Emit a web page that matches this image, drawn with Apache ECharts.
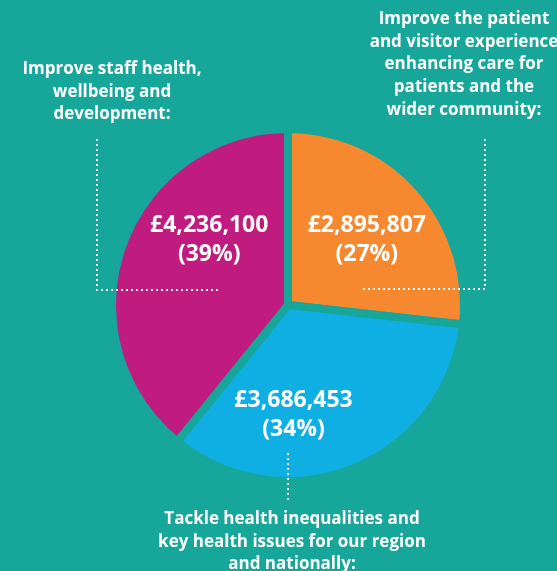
<!DOCTYPE html>
<html>
<head>
<meta charset="utf-8">
<script src="https://cdn.jsdelivr.net/npm/echarts@6/dist/echarts.min.js"></script>
<style>
  html, body { margin: 0; padding: 0; background: #16a79a; }
  #chart { width: 557px; height: 571px; }
</style>
</head>
<body>
<div id="chart"></div>
<script>
// 数据
const categories = [
  'Improve the patient\nand visitor experience\nenhancing care for\npatients and the\nwider community:',
  'Tackle health inequalities and\nkey health issues for our region\nand nationally:',
  'Improve staff health,\nwellbeing and\ndevelopment:'
]
const amounts = [2895807, 3686453, 4236100]
const colors = ['#f6892f', '#10afe3', '#c01c80']

const bg = '#16a79a'
const font = '"Open Sans", "DejaVu Sans", sans-serif'

// nudge the inside labels to where the reference puts them
const labelNudge = [[11, -4], [-29, 26], [7, -35]]

const chart = echarts.init(document.getElementById('chart'))

const textStyle = { fill: '#fff', font: 'bold 17px ' + font, textAlign: 'center', textVerticalAlign: 'top', lineHeight: 22.6 }
const dotted = { stroke: '#fff', lineWidth: 2, lineDash: [2, 3], fill: null }

const option = {
  backgroundColor: bg,
  animation: false,
  series: [
    {
      type: 'pie',
      center: [288, 305],
      radius: [0, 176],
      startAngle: 90,
      clockwise: true,
      silent: true,
      itemStyle: {
        borderColor: bg,
        borderWidth: 8
      },
      label: {
        show: true,
        position: 'inside',
        color: '#fff',
        fontFamily: font,
        fontWeight: 'bold',
        fontSize: 23,
        lineHeight: 29,
        align: 'center',
        formatter: (p) => '£' + p.value.toLocaleString('en-GB') + '\n(' + Math.round(p.percent) + '%)'
      },
      labelLine: { show: false },
      data: amounts.map((v, i) => ({
        value: v,
        name: categories[i],
        itemStyle: { color: colors[i] },
        label: { offset: labelNudge[i] }
      }))
    }
  ],
  graphic: [
    // 类别说明文字
    { type: 'text', x: 464, y: 8, z: 100, style: Object.assign({ text: categories[0] }, textStyle) },
    { type: 'text', x: 292, y: 508, z: 100, style: Object.assign({ text: categories[1] }, textStyle) },
    { type: 'text', x: 112, y: 58, z: 100, style: Object.assign({ text: categories[2] }, textStyle) },
    // 虚线引导线
    { type: 'polyline', z: 100, shape: { points: [[485, 139], [485, 289], [363, 289]] }, style: dotted },
    { type: 'polyline', z: 100, shape: { points: [[97, 139], [97, 290], [220, 290]] }, style: dotted },
    { type: 'polyline', z: 100, shape: { points: [[288, 453], [288, 501]] }, style: dotted }
  ]
}

chart.setOption(option)
</script>
</body>
</html>
